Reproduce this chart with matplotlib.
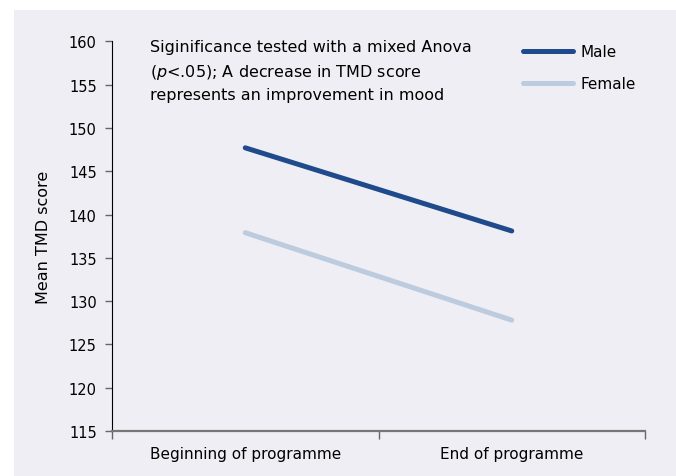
#!/usr/bin/env python3

import matplotlib
matplotlib.use("Agg")
import matplotlib.pyplot as plt
from matplotlib.patches import Rectangle

# ==========================
# DATA
# ==========================
stages = ["Beginning of programme", "End of programme"]
male_tmd = [147.7, 138.1]
female_tmd = [137.9, 127.8]
y_ticks = [115, 120, 125, 130, 135, 140, 145, 150, 155, 160]

note = ("Siginificance tested with a mixed Anova\n"
        "($\\it{p}$<.05); A decrease in TMD score\n"
        "represents an improvement in mood")

# ==========================
# STYLE
# ==========================
BG = "#EFEEF4"
MALE_COL = "#1F4A8C"
FEMALE_COL = "#BCCBDD"
plt.rcParams["font.family"] = ["DejaVu Sans"]
plt.rcParams["mathtext.fontset"] = "dejavusans"

W, H = 676, 477
fig = plt.figure(figsize=(W / 100, H / 100), dpi=100)
fig.patch.set_facecolor("white")
fig.patches.append(Rectangle((14 / W, 0), 1 - 14 / W, 1 - 11 / H,
                             transform=fig.transFigure, facecolor=BG,
                             edgecolor="none", zorder=-10))

ax = fig.add_axes([112 / W, 45 / H, 533 / W, 389.7 / H])
ax.set_facecolor("none")

# ==========================
# LINES
# ==========================
x = list(range(len(stages)))
ax.plot(x, male_tmd, color=MALE_COL, lw=3.6, solid_capstyle="round", label="Male")
ax.plot(x, female_tmd, color=FEMALE_COL, lw=3.6, solid_capstyle="round", label="Female")

# ==========================
# AXES
# ==========================
ax.set_xlim(-0.5, 1.5)
ax.set_ylim(115, 160)
ax.set_yticks(y_ticks)
ax.tick_params(axis="y", length=5, width=1, color="#666666", labelsize=10.5, pad=6)

ax.set_xticks([-0.5, 0.5, 1.5])
ax.set_xticklabels([])
ax.set_xticks(x, minor=True)
ax.set_xticklabels(stages, minor=True)
ax.tick_params(axis="x", which="major", length=6, width=1, color="#666666")
ax.tick_params(axis="x", which="minor", length=0, labelsize=11, pad=11)

for s in ["top", "right"]:
    ax.spines[s].set_visible(False)
ax.spines["left"].set_color("black")
ax.spines["bottom"].set_color("#777777")
ax.spines["bottom"].set_linewidth(1.6)

ax.set_ylabel("Mean TMD score", fontsize=11.5, labelpad=13)

# ==========================
# NOTE + LEGEND
# ==========================
fig.text(150 / W, 1 - 40 / H, note, fontsize=11.5, va="top", ha="left",
         linespacing=1.55)

ax.legend(loc="upper left", bbox_to_anchor=(0.745, 1.028), frameon=False,
          fontsize=11, handlelength=3.3, handletextpad=0.5,
          labelspacing=1.1)

plt.savefig("out.png", dpi=100, facecolor=fig.get_facecolor())
plt.close()
